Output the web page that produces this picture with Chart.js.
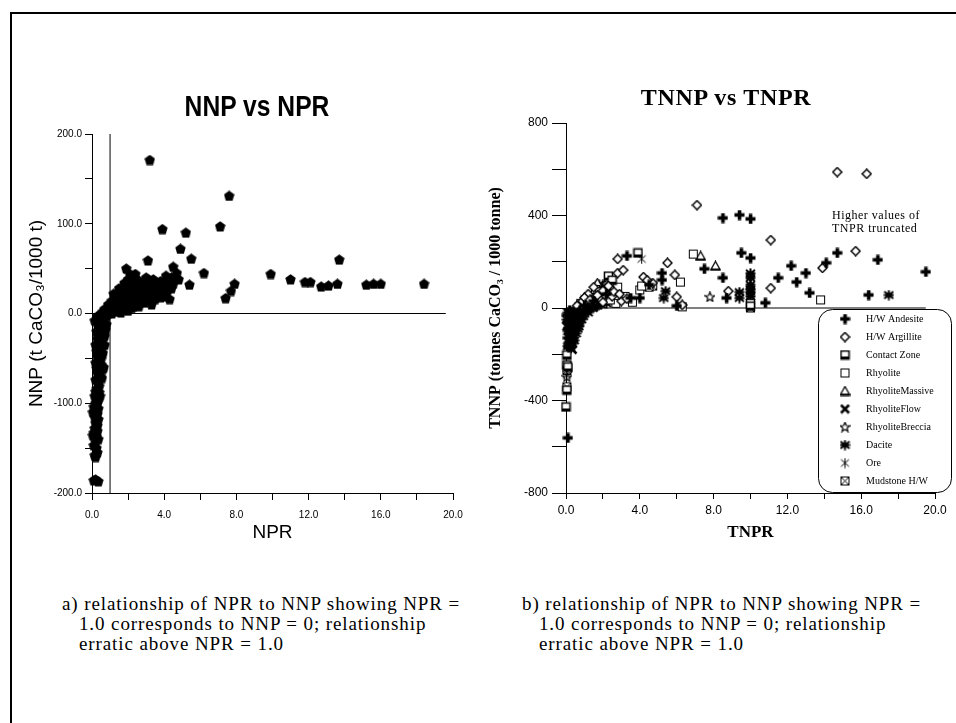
<!DOCTYPE html>
<html>
<head>
<meta charset="utf-8">
<script src="https://cdn.jsdelivr.net/npm/chart.js@4.4.1/dist/chart.umd.min.js"></script>
<style>
  body { margin: 0; background: #fff; }
  #page { position: relative; width: 956px; height: 723px; overflow: hidden; background: #fff; }
  .frame { position: absolute; left: 10px; top: 12px; width: 980px; height: 760px; border-left: 2px solid #000; border-top: 2px solid #000; box-sizing: border-box; }
  canvas { position: absolute; top: 0; }
  #chart-left { left: 0; }
  #chart-right { left: 480px; }
  .txt { position: absolute; white-space: pre; color: #000; }
  .title-l { font: bold 29px "Liberation Sans"; line-height: 29px; left: 257px; top: 92px; transform: translateX(-50%) scaleX(0.85); }
  .title-r { font: bold 24px "Liberation Serif"; line-height: 24px; left: 726px; top: 85px; letter-spacing: 0.7px; transform: translateX(-50%); }
  .note { font: 12px "Liberation Serif"; line-height: 13px; left: 832px; top: 209px; letter-spacing: 0.5px; }
  .caption { font: 19px "Liberation Serif"; line-height: 20px; letter-spacing: 0.9px; top: 594px; }
</style>
</head>
<body>
<div id="page">
  <div class="frame"></div>
  <canvas id="chart-left" width="480" height="560"></canvas>
  <canvas id="chart-right" width="476" height="560"></canvas>
  <div class="txt title-l">NNP vs NPR</div>
  <div class="txt title-r">TNNP vs TNPR</div>
  <div class="txt note">Higher values of
TNPR truncated</div>
  <div class="txt caption" style="left:62px">a) relationship of NPR to NNP showing NPR =
   1.0 corresponds to NNP = 0; relationship
   erratic above NPR = 1.0</div>
  <div class="txt caption" style="left:522px">b) relationship of NPR to NNP showing NPR =
   1.0 corresponds to NNP = 0; relationship
   erratic above NPR = 1.0</div>
</div>
<script>
// ---- left chart: NNP vs NPR  [NPR, NNP]
const nnpOutliers = [
  [3.2, 171], [7.6, 131], [3.9, 94], [7.1, 97], [5.2, 90], [4.9, 72], [3.1, 59], [5.5, 61], [6.2, 45], [5.4, 32],
  [7.4, 17], [7.7, 25], [7.9, 33], [9.9, 44], [11.0, 38], [11.8, 35], [12.1, 35], [12.7, 30], [13.1, 31],
  [13.7, 60], [13.6, 33], [15.2, 32], [15.6, 33], [16.0, 33], [18.4, 33],
];
const nnpCluster = [
  [1.9, 50], [2.4, 44], [4.5, 52], [4.6, 40], [4.7, 45], [3.1, 38], [3.7, 30], [3.9, 27], [3.5, 16], [2.9, 12],
  [2.0, 38], [2.1, 29], [1.4, 21], [1.7, 16], [2.4, 19], [2.8, 23], [3.3, 23], [4.0, 19], [1.3, 12], [2.0, 10],
  [0.9, 4], [1.4, 4], [3.4, 34], [4.2, 34], [4.4, 28], [4.8, 38], [1.0, 8], [1.1, 5], [1.2, 10], [1.3, 6],
  [1.5, 8], [1.5, 18], [1.6, 12], [1.7, 20], [1.7, 5], [1.8, 15], [1.9, 22], [1.9, 10], [2.0, 18], [2.0, 28],
  [2.1, 12], [2.2, 25], [2.2, 6], [2.3, 20], [2.4, 30], [2.5, 15], [2.5, 24], [2.6, 8], [2.7, 20], [2.8, 27],
  [3.0, 22], [3.0, 32], [3.1, 18], [3.2, 28], [3.3, 10], [3.4, 24], [3.6, 31], [3.7, 22], [3.8, 18], [4.1, 22],
  [4.3, 16], [2.3, 34], [2.6, 36], [2.9, 33], [1.1, 0], [1.3, 2], [1.6, 1], [1.8, 4], [2.0, 3], [2.3, 8],
  [2.6, 13], [2.9, 17], [3.2, 14], [3.6, 20], [3.9, 24], [4.2, 27], [4.5, 33], [4.4, 40], [4.1, 42], [3.8, 36],
  [3.4, 38], [3.0, 40], [2.7, 31], [2.5, 38], [2.2, 40], [1.9, 32], [1.6, 26], [1.3, 18], [1.1, 14], [0.9, 10],
  [1.2, 22], [1.5, 28], [1.8, 34], [2.1, 44], [2.6, 26], [3.1, 26], [3.5, 28], [4.0, 32], [4.3, 38], [2.4, 11],
  [2.0, 22], [1.6, 6],
];
const nnpNegative = [
  [0.5, -3], [0.6, 2], [0.7, -1], [0.8, 3], [0.9, 0], [0.7, 5], [0.55, 0], [0.8, -3], [0.6, -8], [0.4, -5],
  [0.3, -10], [0.5, -12], [0.35, -15], [0.65, -15], [0.75, -18], [0.25, -20], [0.5, -22], [0.7, -25], [0.3, -28],
  [0.45, -32], [0.2, -35], [0.5, -30], [0.55, -38], [0.4, -40], [0.6, -44], [0.55, -45], [0.3, -48], [0.5, -51],
  [0.2, -55], [0.4, -58], [0.65, -60], [0.6, -62], [0.45, -63], [0.3, -66], [0.45, -70], [0.2, -74], [0.35, -78],
  [0.25, -84], [0.4, -88], [0.15, -92], [0.35, -96], [0.3, -100], [0.1, -104], [0.05, -110], [0.3, -112],
  [0.35, -118], [0.2, -122], [0.15, -128], [0.3, -131], [0.05, -136], [0.35, -140], [0.2, -143], [0.1, -147],
  [0.3, -155], [0.15, -158], [0.1, -186], [0.2, -185], [0.35, -187],
  [0.15, -8], [0.45, -18], [0.6, -28], [0.35, -36], [0.25, -42], [0.5, -46], [0.35, -53], [0.5, -57],
  [0.25, -61], [0.4, -67], [0.55, -72], [0.3, -73], [0.4, -81], [0.2, -87], [0.45, -92], [0.25, -95],
  [0.2, -100], [0.35, -106], [0.15, -115], [0.25, -120], [0.3, -125], [0.1, -133], [0.25, -137], [0.25, -150],
  [0.2, -160], [0.7, -35], [0.8, -12], [0.95, 2], [0.45, -2], [0.3, -3],
];

// ---- right chart: TNNP vs TNPR  [TNPR, TNNP]
const hwAndesite = [
  [9.4, 402], [8.5, 389], [10.0, 385], [9.5, 238], [10.0, 216], [12.2, 182], [11.5, 130], [13.0, 151], [12.5, 112],
  [14.1, 195], [14.7, 238], [16.9, 208], [19.5, 156], [8.5, 130], [7.5, 169], [13.2, 65], [16.4, 56], [10.8, 22],
  [8.7, 43], [5.2, 151], [5.2, 121], [6.0, 9], [3.3, 225], [3.5, 43], [4.0, 43], [4.5, 100], [0.1, -562],
  [1.5, 30], [2.2, 60], [0.3, -20], [0.6, -40], [1.0, 10],
  [0.05, -30], [0.1, -60], [0.15, -90], [0.2, -110], [0.1, -130], [0.25, -150], [0.15, -170], [0.3, -140],
  [0.4, -110], [0.5, -90], [0.6, -70], [0.7, -55], [0.8, -40], [0.9, -25], [1.0, -15], [1.1, -5], [1.2, 0],
  [1.4, 5], [0.2, -10], [0.3, -40], [0.35, -75], [0.45, -60], [0.55, -35], [0.65, -20], [0.75, -10],
];
const hwArgillite = [
  [7.1, 445], [14.7, 588], [16.3, 580], [11.1, 294], [13.9, 173], [15.7, 246], [11.1, 86], [2.8, 212], [2.8, 151],
  [3.1, 164], [5.5, 195], [5.9, 143], [4.2, 134], [4.7, 108], [6.0, 48], [6.3, 13], [8.8, 73], [1.5, 90],
  [1.2, 60], [2.0, 75], [1.8, 40], [0.9, 30], [2.5, 50], [1.4, 20], [0.6, 10], [3.0, 30], [4.4, 120],
  [1.7, 55], [2.3, 95], [2.6, 70], [1.0, 45], [2.9, 60], [3.3, 40], [2.0, 25], [1.3, 35],
];
const contactZone = [
  [3.9, 238], [2.3, 138], [2.5, 120], [0.05, -203], [0.05, -246], [0.1, -255], [0.05, -355], [0.0, -428],
  [1.8, 70], [10.0, 20], [10.0, 8],
];
const rhyolite = [
  [6.9, 233], [6.2, 112], [4.0, 78], [4.1, 95], [13.8, 35], [1.6, 80], [2.2, 45], [3.6, 25], [0.8, 20],
  [1.2, 5], [2.7, 20], [6.3, 5], [1.9, 55], [2.4, 35], [3.2, 50], [1.1, 25], [0.7, 5], [2.8, 90],
];
const rhyoliteMassive = [[1.7, 108], [7.3, 225], [8.1, 182], [1.2, 50], [0.9, 15]];
const rhyoliteFlow = [
  [0.5, -30], [0.8, -10], [1.0, 20], [2.0, 60], [0.3, -100], [0.15, -45], [0.45, -100], [0.7, -30],
  [1.0, -5], [1.5, 2], [0.05, -80], [0.35, -180],
];
const rhyoliteBreccia = [[7.8, 48], [2.0, 100], [1.5, 65], [0.05, -298], [0.2, -120], [0.4, -60]];
const dacite = [
  [5.4, 73], [5.3, 43], [9.4, 69], [9.4, 43], [10.0, 150], [10.0, 130], [10.0, 100], [10.0, 80], [10.0, 70],
  [10.0, 50], [17.5, 56], [1.8, 100], [2.2, 80], [0.5, -50], [0.7, -80], [0.2, -150],
  [0.1, -20], [0.2, -50], [0.3, -80], [0.25, -120], [0.35, -30], [0.5, -15], [0.6, -5], [0.8, 0], [1.3, -3],
  [1.6, 8], [1.9, 15], [2.2, 20], [0.15, -160], [0.4, -130],
  [0.1, -100], [0.2, -130], [0.3, -60], [0.4, -20], [0.5, -40], [0.6, -20], [0.7, -5], [0.9, -12], [1.1, -8],
  [1.3, 3], [1.5, 10], [1.7, 12], [0.25, -175], [0.1, -165], [0.35, -155], [0.45, -140], [0.55, -110],
  [0.65, -90], [0.75, -65], [0.85, -50], [0.95, -35], [1.2, -20], [0.05, -50], [0.15, -70],
];
const ore = [
  [4.1, 212], [10.0, 140], [10.0, 115], [10.0, 60], [10.0, 30], [2.0, 90], [1.0, 40], [0.05, -290],
  [0.3, -170], [0.6, -30],
];
const mudstoneHW = [[4.7, 95], [0.05, -341], [0.1, -260], [0.05, -270], [2.3, 130], [10.0, 0], [4.5, 90]];

const leftXTicks = [0, 4, 8, 12, 16, 20];
const rightYTicks = [-800, -400, 0, 400, 800];

// ---- marker glyphs
function mk(size, draw) {
  const c = document.createElement('canvas');
  c.width = size;
  c.height = size;
  const g = c.getContext('2d');
  g.strokeStyle = '#000';
  g.fillStyle = '#000';
  draw(g);
  return c;
}

const markers = {
  pentagon: mk(11, (g) => {
    g.beginPath();
    g.moveTo(5.5, 0.3); g.lineTo(10.7, 4); g.lineTo(8.8, 10.6); g.lineTo(2.2, 10.6); g.lineTo(0.3, 4);
    g.closePath(); g.fill();
  }),
  plus: mk(11, (g) => {
    g.fillRect(3.8, 0.5, 3.6, 10);
    g.fillRect(0.5, 3.6, 10, 3.6);
  }),
  diamond: mk(11, (g) => {
    g.lineWidth = 1.5;
    g.beginPath();
    g.moveTo(5.5, 1); g.lineTo(10, 5.5); g.lineTo(5.5, 10); g.lineTo(1, 5.5);
    g.closePath();
    g.fillStyle = '#fff'; g.fill(); g.stroke();
  }),
  squareBase: mk(11, (g) => {
    g.fillStyle = '#fff'; g.fillRect(1, 1, 9, 9);
    g.lineWidth = 1.5; g.strokeRect(1.5, 1.5, 8, 8);
    g.fillStyle = '#000'; g.fillRect(1, 7, 9, 3);
  }),
  square: mk(11, (g) => {
    g.fillStyle = '#fff'; g.fillRect(1, 1, 9, 9);
    g.lineWidth = 1; g.strokeRect(1.5, 1.5, 8, 8);
  }),
  triangle: mk(11, (g) => {
    g.beginPath();
    g.moveTo(5.5, 1); g.lineTo(10, 9); g.lineTo(1, 9);
    g.closePath();
    g.fillStyle = '#fff'; g.fill();
    g.lineWidth = 1.3; g.stroke();
    g.fillStyle = '#000'; g.fillRect(0.5, 8.5, 10, 2);
  }),
  cross: mk(11, (g) => {
    g.lineWidth = 2.6;
    g.beginPath();
    g.moveTo(1.5, 1.5); g.lineTo(9.5, 9.5);
    g.moveTo(9.5, 1.5); g.lineTo(1.5, 9.5);
    g.stroke();
  }),
  starOpen: mk(11, (g) => {
    g.beginPath();
    for (let i = 0; i < 10; i++) {
      const a = -Math.PI / 2 + i * Math.PI / 5;
      const r = i % 2 ? 2.2 : 5;
      g.lineTo(5.5 + r * Math.cos(a), 5.8 + r * Math.sin(a));
    }
    g.closePath();
    g.lineWidth = 1.2; g.stroke();
  }),
  asteriskBold: mk(11, (g) => {
    g.lineWidth = 2;
    g.beginPath();
    g.moveTo(5.5, 0.5); g.lineTo(5.5, 10.5);
    g.moveTo(1, 2); g.lineTo(10, 9);
    g.moveTo(10, 2); g.lineTo(1, 9);
    g.moveTo(0.5, 5.5); g.lineTo(10.5, 5.5);
    g.stroke();
    g.fillRect(3.5, 3.5, 4, 4);
  }),
  asterisk: mk(11, (g) => {
    g.lineWidth = 1;
    g.beginPath();
    g.moveTo(5.5, 0.5); g.lineTo(5.5, 10.5);
    g.moveTo(1.5, 2); g.lineTo(9.5, 9);
    g.moveTo(9.5, 2); g.lineTo(1.5, 9);
    g.stroke();
  }),
  boxX: mk(11, (g) => {
    g.fillStyle = '#fff'; g.fillRect(1, 1, 9, 9);
    g.lineWidth = 1; g.strokeRect(1.5, 1.5, 8, 8);
    g.beginPath();
    g.moveTo(1.5, 1.5); g.lineTo(9.5, 9.5);
    g.moveTo(9.5, 1.5); g.lineTo(1.5, 9.5);
    g.stroke();
  }),
};

Chart.defaults.font.family = '"Liberation Sans"';
Chart.defaults.color = '#000';

const toXY = (pairs) => pairs.map(([x, y]) => ({ x, y }));

function scatterSet(label, pairs, marker) {
  return {
    label: label,
    data: toXY(pairs),
    pointStyle: markers[marker],
    pointRadius: 5,
    clip: false,
    legendMarker: marker,
  };
}

function refLine(points) {
  return {
    data: toXY(points),
    showLine: true,
    borderColor: '#000',
    borderWidth: 1,
    pointRadius: 0,
    isRef: true,
  };
}

function axisBase() {
  return {
    type: 'linear',
    border: { display: true, color: '#000', width: 1 },
    grid: { drawOnChartArea: false, drawTicks: true, color: '#000' },
  };
}

// left chart
new Chart(document.getElementById('chart-left'), {
  type: 'scatter',
  data: {
    datasets: [
      scatterSet('NNP', nnpOutliers.concat(nnpCluster, nnpNegative), 'pentagon'),
      refLine([[1, -200], [1, 200]]),
      refLine([[0, 0], [19.6, 0]]),
    ],
  },
  options: {
    responsive: false,
    animation: false,
    events: [],
    layout: { padding: { left: 20, right: 27, top: 134, bottom: 10 } },
    plugins: { legend: { display: false }, tooltip: { enabled: false } },
    scales: {
      x: {
        ...axisBase(),
        min: 0,
        max: 20,
        grid: { drawOnChartArea: false, color: '#000', tickLength: 7 },
        ticks: {
          stepSize: 2, autoSkip: false, maxRotation: 0, padding: 9, font: { size: 10 },
          callback: (v) => (leftXTicks.includes(v) ? v.toFixed(1) : ''),
        },
        title: { display: true, text: 'NPR', font: { size: 19 }, padding: { top: 0, bottom: 6 } },
        afterFit: (s) => { s.height = 57; },
      },
      y: {
        ...axisBase(),
        min: -200,
        max: 200,
        grid: { drawOnChartArea: false, color: '#000', tickLength: 7 },
        ticks: {
          stepSize: 50, autoSkip: false, padding: 3, font: { size: 10 },
          callback: (v) => (v % 100 === 0 ? v.toFixed(1) : ''),
        },
        title: { display: true, text: 'NNP (t CaCO₃/1000 t)', font: { size: 19 }, padding: { top: 5, bottom: 0 } },
        afterFit: (s) => { s.width = 72; },
      },
    },
  },
});

// rounded legend box drawn inside the right plot
const boxLegend = {
  id: 'boxLegend',
  afterDraw(chart) {
    const ctx = chart.ctx;
    ctx.save();
    ctx.beginPath();
    ctx.roundRect(338.5, 309.5, 133, 183, 14);
    ctx.fillStyle = '#fff';
    ctx.fill();
    ctx.strokeStyle = '#000';
    ctx.lineWidth = 1;
    ctx.stroke();
    ctx.font = '10px "Liberation Serif"';
    ctx.textBaseline = 'middle';
    ctx.fillStyle = '#000';
    chart.data.datasets.filter((d) => !d.isRef).forEach((d, i) => {
      const y = 319 + i * 18;
      const img = markers[d.legendMarker];
      ctx.drawImage(img, 365 - img.width / 2, y - img.height / 2);
      ctx.fillText(d.label, 386, y);
    });
    ctx.restore();
  },
};

// right chart
new Chart(document.getElementById('chart-right'), {
  type: 'scatter',
  data: {
    datasets: [
      scatterSet('H/W Andesite', hwAndesite, 'plus'),
      scatterSet('H/W Argillite', hwArgillite, 'diamond'),
      scatterSet('Contact Zone', contactZone, 'squareBase'),
      scatterSet('Rhyolite', rhyolite, 'square'),
      scatterSet('RhyoliteMassive', rhyoliteMassive, 'triangle'),
      scatterSet('RhyoliteFlow', rhyoliteFlow, 'cross'),
      scatterSet('RhyoliteBreccia', rhyoliteBreccia, 'starOpen'),
      scatterSet('Dacite', dacite, 'asteriskBold'),
      scatterSet('Ore', ore, 'asterisk'),
      scatterSet('Mudstone H/W', mudstoneHW, 'boxX'),
      refLine([[0, 0], [19.5, 0]]),
    ],
  },
  options: {
    responsive: false,
    animation: false,
    events: [],
    layout: { padding: { left: 4, right: 21, top: 123, bottom: 10 } },
    plugins: { legend: { display: false }, tooltip: { enabled: false } },
    scales: {
      x: {
        ...axisBase(),
        min: 0,
        max: 20,
        grid: { drawOnChartArea: false, color: '#000', tickLength: 6 },
        ticks: {
          stepSize: 2, autoSkip: false, maxRotation: 0, padding: 4, font: { size: 12 },
          callback: (v) => (v % 4 === 0 ? v.toFixed(1) : ''),
        },
        title: {
          display: true, text: 'TNPR', font: { family: '"Liberation Serif"', size: 17, weight: 'bold' },
          padding: { top: 0, bottom: 7 },
        },
        afterFit: (s) => { s.height = 57; },
      },
      y: {
        ...axisBase(),
        min: -800,
        max: 800,
        grid: { drawOnChartArea: false, color: '#000', tickLength: 14 },
        ticks: {
          stepSize: 200, autoSkip: false, padding: 4, font: { size: 12 },
          callback: (v) => (rightYTicks.includes(v) ? String(v) : ''),
        },
        title: {
          display: true, text: 'TNNP (tonnes CaCO₃ / 1000 tonne)',
          font: { family: '"Liberation Serif"', size: 16, weight: 'bold' },
          padding: { top: 2, bottom: 0 },
        },
        afterFit: (s) => { s.width = 82; },
      },
    },
  },
  plugins: [boxLegend],
});
</script>
</body>
</html>
